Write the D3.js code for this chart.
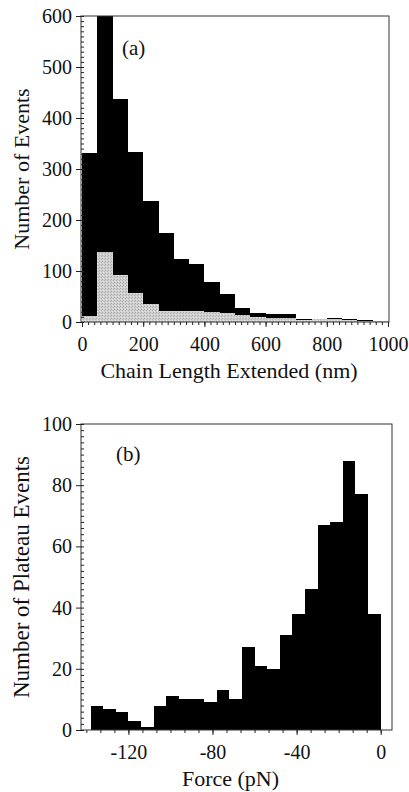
<!DOCTYPE html>
<html>
<head>
<meta charset="utf-8">
<script src="https://cdn.jsdelivr.net/npm/d3@7"></script>
<style>
  body { margin: 0; background: #fff; }
  svg text { font-family: "Liberation Serif", "DejaVu Serif", serif; fill: #111; }
  .domain { display: none; }
  .tick line { stroke: #222; }
</style>
</head>
<body>
<svg id="chart" width="409" height="792"></svg>
<script>
// (a) chain length histogram, 50 nm bins
var lengthStart = [0, 50, 100, 150, 200, 250, 300, 350, 400, 450,
                   500, 550, 600, 650, 700, 750, 800, 850, 900, 950];
var allEvents    = [332, 610, 438, 333, 238, 174, 124, 114, 79, 55,
                    28, 18, 16, 15, 5, 6, 8, 5, 3, 1];
var subsetEvents = [11, 138, 93, 57, 35, 22, 21, 22, 20, 17,
                    13, 9, 8, 7, 4, 5, 5, 4, 2, 1];
var lengthTicks = [0, 200, 400, 600, 800, 1000];
var eventTicks  = [0, 100, 200, 300, 400, 500, 600];

// (b) plateau force histogram, 6 pN bins
var forceStart = [-138, -132, -126, -120, -114, -108, -102, -96, -90, -84, -78, -72,
                  -66, -60, -54, -48, -42, -36, -30, -24, -18, -12, -6];
var plateauEvents = [8, 7, 6, 3, 1, 8, 11, 10, 10, 9, 13, 10,
                     27, 21, 20, 31, 38, 46, 67, 68, 88, 77, 38];
var forceTicks   = [-120, -80, -40, 0];
var plateauTicks = [0, 20, 40, 60, 80, 100];

var svg = d3.select("#chart");

// stippled grey fill for the subset histogram
var pat = svg.append("defs").append("pattern")
    .attr("id", "stipple")
    .attr("width", 3).attr("height", 3)
    .attr("patternUnits", "userSpaceOnUse");
pat.append("rect").attr("width", 3).attr("height", 3).attr("fill", "#cfcfcf");
pat.append("rect").attr("x", 0).attr("y", 0).attr("width", 1).attr("height", 1).attr("fill", "#a8a8a8");
pat.append("rect").attr("x", 2).attr("y", 1).attr("width", 1).attr("height", 1).attr("fill", "#b4b4b4");
pat.append("rect").attr("x", 1).attr("y", 2).attr("width", 1).attr("height", 1).attr("fill", "#e4e4e4");

function label(d) { return String(d); }

function panel(opt) {
  var g = svg.append("g");
  var x = d3.scaleLinear().domain(opt.xDomain).range(opt.xRange);
  var y = d3.scaleLinear().domain(opt.yDomain).range(opt.yRange);
  var left = opt.frame[0], right = opt.frame[1],
      top = opt.yRange[1], bottom = opt.yRange[0];

  g.append("clipPath").attr("id", opt.id + "-clip")
    .append("rect")
      .attr("x", left).attr("y", top)
      .attr("width", right - left).attr("height", bottom - top);

  var bars = g.append("g").attr("clip-path", "url(#" + opt.id + "-clip)");
  opt.series.forEach(function(s) {
    bars.selectAll(null)
      .data(s.values)
      .enter().append("rect")
        .attr("x", function(d, i) { return x(opt.starts[i]); })
        .attr("width", function(d, i) { return x(opt.starts[i] + opt.bin) - x(opt.starts[i]); })
        .attr("y", function(d) { return y(d); })
        .attr("height", function(d) { return y(0) - y(d); })
        .attr("fill", s.color)
        .attr("shape-rendering", "crispEdges");
  });

  // frame
  g.append("rect")
    .attr("x", left).attr("y", top)
    .attr("width", right - left).attr("height", bottom - top)
    .attr("fill", "none").attr("stroke", "#333").attr("stroke-width", 1);

  // y axis: minor ticks inward, major ticks outward
  g.append("g").attr("transform", `translate(${left},0)`)
    .call(d3.axisLeft(y).tickValues(d3.range(opt.yDomain[0], opt.yDomain[1] + 1e-9, opt.yMinor))
      .tickSize(-3).tickFormat(""));
  g.append("g").attr("transform", `translate(${left},0)`)
    .call(d3.axisLeft(y).tickValues(opt.yTicks).tickSizeInner(5).tickSizeOuter(0)
      .tickPadding(4).tickFormat(label))
    .selectAll("text").style("font-size", "20px");

  // x axis: ticks downward
  g.append("g").attr("transform", `translate(0,${bottom})`)
    .call(d3.axisBottom(x).tickValues(opt.xMinor).tickSize(3).tickFormat(""));
  g.append("g").attr("transform", `translate(0,${bottom})`)
    .call(d3.axisBottom(x).tickValues(opt.xTicks).tickSizeInner(5).tickSizeOuter(0)
      .tickPadding(10).tickFormat(label))
    .selectAll("text").style("font-size", "20px");

  g.append("text")
    .attr("x", (left + right) / 2 - 6).attr("y", bottom + 56)
    .attr("text-anchor", "middle").style("font-size", "22px")
    .text(opt.xTitle);
  g.append("text")
    .attr("transform", `translate(${opt.yTitleX},${(top + bottom) / 2}) rotate(-90)`)
    .attr("text-anchor", "middle").style("font-size", opt.yTitleSize)
    .text(opt.yTitle);
  g.append("text")
    .attr("x", opt.tag[0]).attr("y", opt.tag[1])
    .style("font-size", "21px")
    .text(opt.tag[2]);
}

panel({
  id: "a",
  xDomain: [0, 1000], xRange: [82, 388], frame: [81, 389],
  yDomain: [0, 600], yRange: [322, 16],
  starts: lengthStart, bin: 50,
  series: [{values: allEvents, color: "#000"}, {values: subsetEvents, color: "url(#stipple)"}],
  xTicks: lengthTicks, xMinor: d3.range(0, 1001, 20),
  yTicks: eventTicks, yMinor: 10,
  xTitle: "Chain Length Extended (nm)", yTitle: "Number of Events", yTitleX: 29, yTitleSize: "22px",
  tag: [122, 55, "(a)"]
});

panel({
  id: "b",
  xDomain: [-120, 0], xRange: [128.4, 380.7], frame: [81, 392],
  yDomain: [0, 100], yRange: [730, 424],
  starts: forceStart, bin: 6,
  series: [{values: plateauEvents, color: "#000"}],
  xTicks: forceTicks, xMinor: d3.range(-140, 6, 40 / 6),
  yTicks: plateauTicks, yMinor: 2,
  xTitle: "Force (pN)", yTitle: "Number of Plateau Events", yTitleX: 29, yTitleSize: "23px",
  tag: [116, 461, "(b)"]
});
</script>
</body>
</html>
